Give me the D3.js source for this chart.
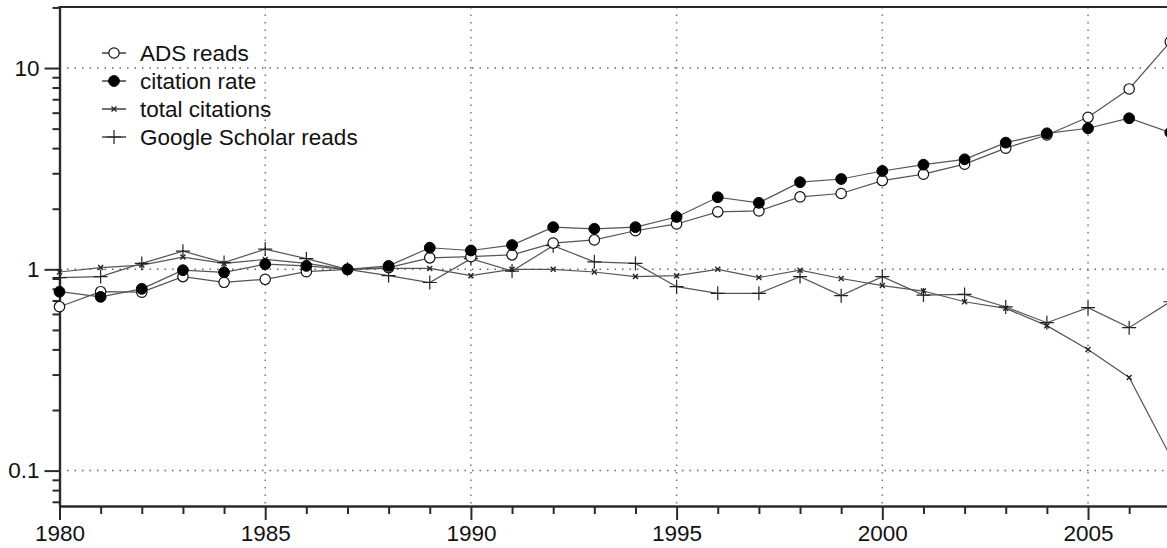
<!DOCTYPE html>
<html><head><meta charset="utf-8">
<script src="https://cdn.jsdelivr.net/npm/d3@7"></script>
<style>
html,body{margin:0;padding:0;background:#fff;}
svg{display:block;font-family:"Liberation Sans",Arial,sans-serif;}
</style></head>
<body><svg id="c" width="1167" height="548"></svg>
<script>
const years = [1980,1981,1982,1983,1984,1985,1986,1987,1988,1989,1990,1991,1992,1993,1994,1995,1996,1997,1998,1999,2000,2001,2002,2003,2004,2005,2006,2007];
const adsReads = [0.652,0.774,0.77,0.92,0.862,0.892,0.973,1.0,1.02,1.14,1.155,1.18,1.35,1.40,1.555,1.68,1.93,1.95,2.29,2.38,2.76,2.97,3.33,4.0,4.65,5.69,7.87,13.5];
const citationRate = [0.774,0.73,0.80,0.99,0.966,1.06,1.04,1.0,1.04,1.28,1.24,1.32,1.62,1.59,1.62,1.82,2.28,2.14,2.71,2.81,3.08,3.31,3.52,4.26,4.74,5.02,5.63,4.78];
const totalCitations = [0.97,1.02,1.05,1.15,1.07,1.12,1.07,1.0,1.01,1.01,0.93,1.0,1.0,0.97,0.92,0.93,1.0,0.91,0.99,0.90,0.83,0.78,0.69,0.64,0.525,0.40,0.29,0.118];
const googleScholar = [0.91,0.92,1.07,1.23,1.08,1.26,1.13,1.0,0.93,0.86,1.13,0.98,1.31,1.09,1.07,0.82,0.76,0.76,0.92,0.74,0.92,0.745,0.75,0.65,0.543,0.645,0.513,0.69];
const seriesNames = ["ADS reads","citation rate","total citations","Google Scholar reads"];
const seriesKinds = ["open","filled","x","plus"];
const xMajorTicks = [1980,1985,1990,1995,2000,2005];
const yMajorTicks = [0.1,1,10];
const yTickLabels = ["0.1","1","10"];

const svg = d3.select("#c");
const x = d3.scaleLinear().domain([1980,2007]).range([59.5,1170.3]);
const y = d3.scaleLog().domain([0.0667,20.1]).range([506,7]);
const X0 = 59.5, X1 = 1170.3, Y0 = 506, Y1 = 7;
const axisColor = "#2a2a2a";
const fontSize = 22.5;

// grid
const grid = svg.append("g");
xMajorTicks.filter(v=>v>1980).forEach(v=>{
  grid.append("line").attr("x1",x(v)).attr("x2",x(v)).attr("y1",Y1).attr("y2",Y0)
    .attr("stroke","#777").attr("stroke-width",1.5).attr("stroke-dasharray","1.5,6");
});
yMajorTicks.forEach(v=>{
  grid.append("line").attr("x1",X0).attr("x2",X1).attr("y1",y(v)).attr("y2",y(v))
    .attr("stroke","#666").attr("stroke-width",1.5).attr("stroke-dasharray","1.5,6");
});

// minor ticks
const yMinor = [];
[0.01,0.1,1,10].forEach(d=>{ for(let k=2;k<=9;k++){ const v=d*k; if(v>=0.0667 && v<=20.1) yMinor.push(v);} });
const xMinor = years.filter(v=>!xMajorTicks.includes(v));

const yAxisMinor = svg.append("g").attr("transform",`translate(${X0},0)`)
  .call(d3.axisLeft(y).tickValues(yMinor).tickSize(7).tickSizeOuter(0).tickFormat(""));
const yAxis = svg.append("g").attr("transform",`translate(${X0},0)`)
  .call(d3.axisLeft(y).tickValues(yMajorTicks).tickSize(15).tickSizeOuter(0).tickPadding(5)
    .tickFormat((d,i)=>yTickLabels[i]));
const xAxisMinor = svg.append("g").attr("transform",`translate(0,${Y0})`)
  .call(d3.axisBottom(x).tickValues(xMinor).tickSize(8).tickSizeOuter(0).tickFormat(""));
const xAxis = svg.append("g").attr("transform",`translate(0,${Y0})`)
  .call(d3.axisBottom(x).tickValues(xMajorTicks).tickSize(14).tickSizeOuter(0).tickPadding(5)
    .tickFormat(d3.format("d")));
[yAxisMinor,yAxis,xAxisMinor,xAxis].forEach(g=>{
  g.selectAll("path.domain").attr("stroke",axisColor).attr("stroke-width",2.2);
  g.selectAll(".tick line").attr("stroke",axisColor).attr("stroke-width",2);
  g.selectAll(".tick text").attr("fill","#111").attr("font-size",fontSize)
    .attr("font-family","'Liberation Sans',Arial,sans-serif");
});
// top border
svg.append("line").attr("x1",X0-1).attr("x2",X1).attr("y1",Y1).attr("y2",Y1)
  .attr("stroke",axisColor).attr("stroke-width",2.2);

// markers
function drawMarker(g, kind, cx, cy){
  if(kind==="open"){
    g.append("circle").attr("cx",cx).attr("cy",cy).attr("r",5.2)
      .attr("fill","#fff").attr("stroke","#111").attr("stroke-width",1.2);
  } else if(kind==="filled"){
    g.append("circle").attr("cx",cx).attr("cy",cy).attr("r",5.4)
      .attr("fill","#000").attr("stroke","#000").attr("stroke-width",1);
  } else if(kind==="x"){
    const s=2.5;
    g.append("path").attr("d",`M${cx-s},${cy-s}L${cx+s},${cy+s}M${cx-s},${cy+s}L${cx+s},${cy-s}`)
      .attr("stroke","#222").attr("stroke-width",1.4).attr("fill","none");
  } else {
    const s=7;
    g.append("path").attr("d",`M${cx-s},${cy}L${cx+s},${cy}M${cx},${cy-s}L${cx},${cy+s}`)
      .attr("stroke","#222").attr("stroke-width",1.2).attr("fill","none");
  }
}

const seriesValues = [adsReads,citationRate,totalCitations,googleScholar];
const plot = svg.append("g");
const line = d3.line().x(d=>x(d[0])).y(d=>y(d[1]));
const drawOrder = [3,2,0,1];
drawOrder.forEach(si=>{
  const pts = years.map((yr,i)=>[yr,seriesValues[si][i]]);
  plot.append("path").datum(pts).attr("d",line).attr("fill","none")
    .attr("stroke","#555").attr("stroke-width",1.2);
});
drawOrder.forEach(si=>{
  const g = plot.append("g");
  years.forEach((yr,i)=>drawMarker(g, seriesKinds[si], x(yr), y(seriesValues[si][i])));
});

// legend
const leg = svg.append("g");
const legRows = [53,81,109,137];
seriesNames.forEach((name,i)=>{
  const ly = legRows[i];
  leg.append("line").attr("x1",102).attr("x2",126).attr("y1",ly).attr("y2",ly)
    .attr("stroke","#222").attr("stroke-width",1.3);
  drawMarker(leg, seriesKinds[i], 114, ly);
  leg.append("text").attr("x",140).attr("y",ly).attr("dy","0.36em")
    .attr("font-size",fontSize).attr("fill","#111").text(name);
});
</script></body></html>
